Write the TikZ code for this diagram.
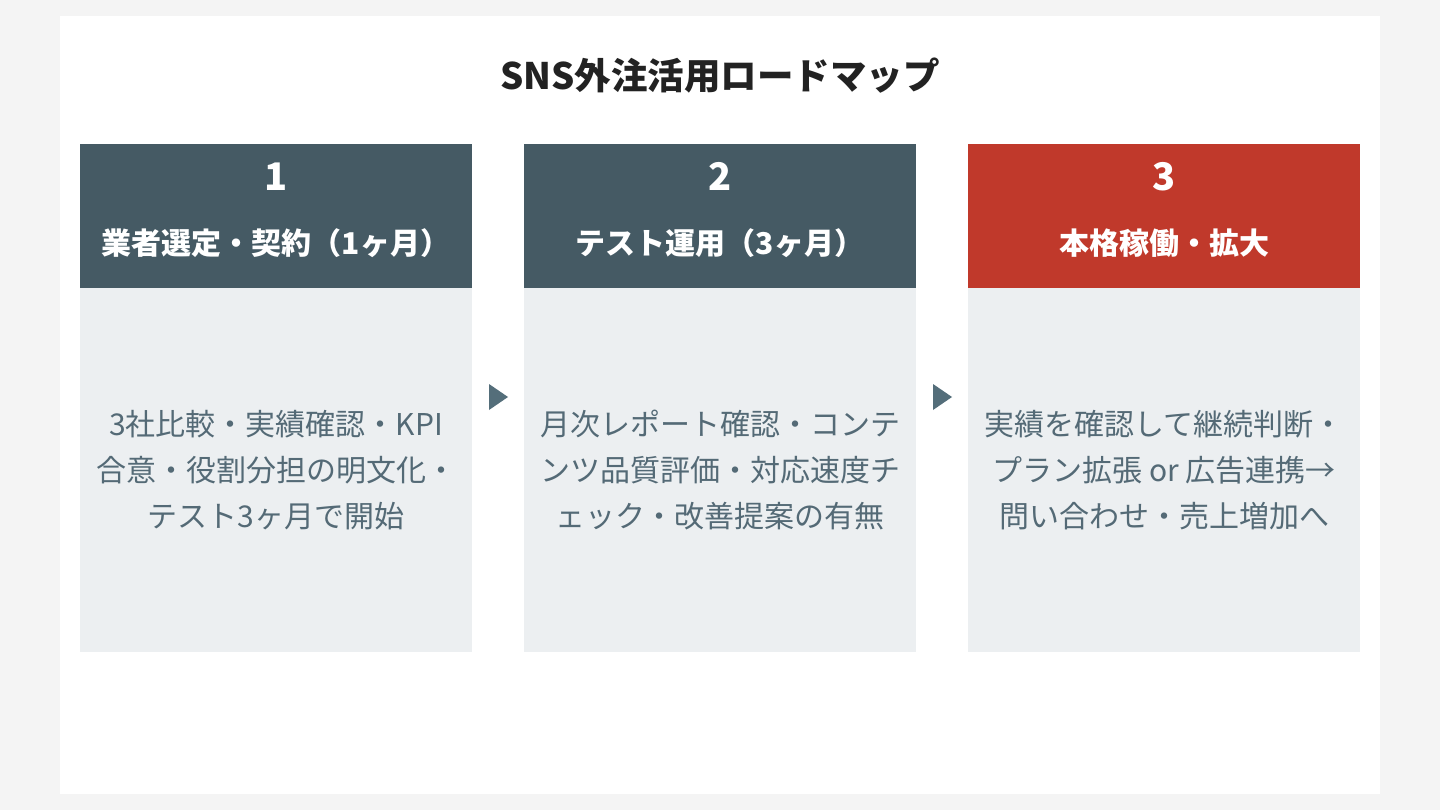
\documentclass[tikz,border=0pt]{standalone}
\usepackage{fontspec}
\setmainfont{Noto Sans CJK JP}
\newfontfamily\jp{Noto Sans CJK JP}
\definecolor{pagebg}{HTML}{F4F4F4}
\definecolor{hdr}{HTML}{455A64}
\definecolor{hdrred}{HTML}{C0392B}
\definecolor{bodybg}{HTML}{ECEFF1}
\definecolor{bodytxt}{HTML}{546A76}
\definecolor{arrowc}{HTML}{546E7A}
\definecolor{titlec}{HTML}{222222}
\tikzset{
  hdrbox/.style={fill=hdr, draw=none},
  bodybox/.style={fill=bodybg, draw=none},
  numtxt/.style={text=white, font=\jp\bfseries\fontsize{38}{40}\selectfont, anchor=base, inner sep=0pt},
  hdrtxt/.style={text=white, font=\jp\bfseries\fontsize{30}{32}\selectfont, anchor=base, inner sep=0pt},
  bodytxtst/.style={text=bodytxt, font=\jp\fontsize{30}{46}\selectfont, align=center, inner sep=0pt},
  tri/.style={fill=arrowc, draw=none},
}
\begin{document}
\begin{tikzpicture}[x=1pt,y=-1pt]
\useasboundingbox (0,0) rectangle (1440,810);
\fill[pagebg] (0,0) rectangle (1440,810);
\fill[white] (60,16) rectangle (1380,794);
\node[anchor=base, inner sep=0pt, text=titlec, font=\jp\bfseries\fontsize{36.5}{40}\selectfont] (title) at (720,90) {SNS外注活用ロードマップ};
% column 1
\fill[hdrbox] (80,144) rectangle (472,288);
\fill[bodybox] (80,288) rectangle (472,652);
\node[numtxt] (n1) at (276,191) {1};
\node[hdrtxt] (h1) at (276,255) {業者選定・契約（1ヶ月）};
\node[bodytxtst] (b1) at (276,470) {3社比較・実績確認・KPI\\合意・役割分担の明文化・\\テスト3ヶ月で開始};
% column 2
\fill[hdrbox] (524,144) rectangle (916,288);
\fill[bodybox] (524,288) rectangle (916,652);
\node[numtxt] (n2) at (720,191) {2};
\node[hdrtxt] (h2) at (720,255) {テスト運用（3ヶ月）};
\node[bodytxtst] (b2) at (720,470) {月次レポート確認・コンテ\\ンツ品質評価・対応速度チ\\ェック・改善提案の有無};
% column 3
\fill[hdrred] (968,144) rectangle (1360,288);
\fill[bodybox] (968,288) rectangle (1360,652);
\node[numtxt] (n3) at (1164,191) {3};
\node[hdrtxt] (h3) at (1164,255) {本格稼働・拡大};
\node[bodytxtst] (b3) at (1164,470) {実績を確認して継続判断・\\プラン拡張 or 広告連携→\\問い合わせ・売上増加へ};
% arrows
\fill[tri] (489,384) -- (489,410) -- (508,397) -- cycle;
\fill[tri] (933,384) -- (933,410) -- (952,397) -- cycle;
\end{tikzpicture}
\end{document}
